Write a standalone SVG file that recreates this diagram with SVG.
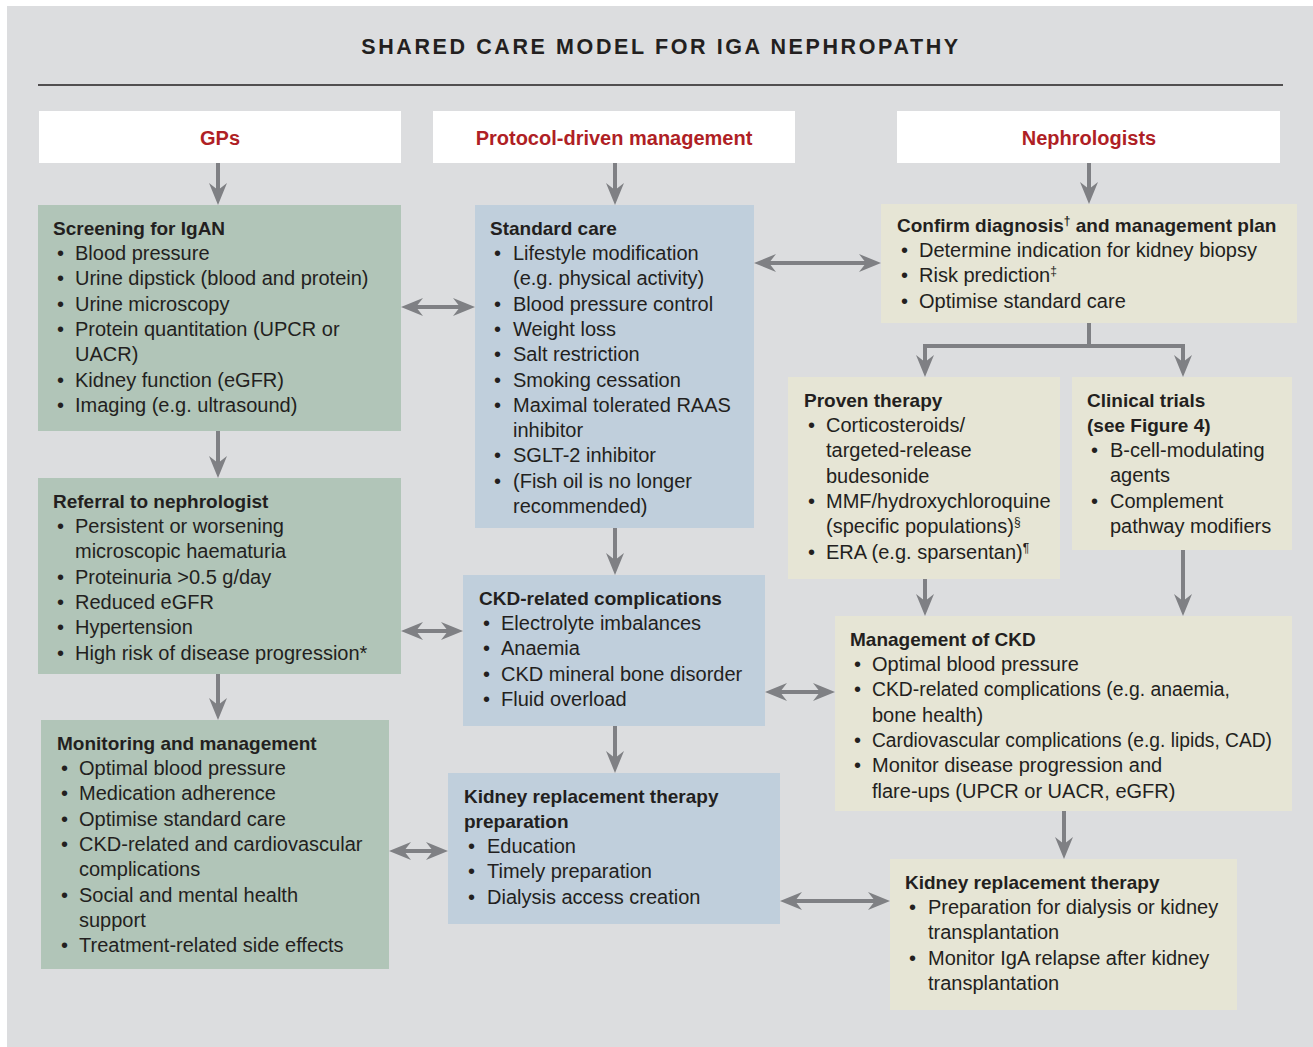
<svg xmlns="http://www.w3.org/2000/svg" width="1313" height="1047" viewBox="0 0 1313 1047">
<defs>
<marker id="ah" viewBox="0 0 22 18" markerWidth="22" markerHeight="18" markerUnits="userSpaceOnUse" refX="8" refY="9" orient="auto-start-reverse">
<path d="M0,0 L22,9 L0,18 L7,9 z" fill="#7f8084"/>
</marker>
</defs>
<style>
text{font-family:"Liberation Sans",Arial,sans-serif;fill:#231f20}
.title{font-size:21.5px;font-weight:bold;letter-spacing:2.6px}
.hdr{font-size:20px;font-weight:bold;fill:#af1f25}
.h{font-size:19px;font-weight:bold}
.b{font-size:20px}
.sup{font-size:12px}
.green{fill:#b1c5b8}
.blue{fill:#c0cfdc}
.beige{fill:#e6e5d5}
.white{fill:#ffffff}
.conn path{stroke:#7f8084;stroke-width:4;fill:none}
</style>
<rect x="7" y="6" width="1306" height="1041" fill="#dcdddf"/>
<text class="title" x="661" y="54" text-anchor="middle">SHARED CARE MODEL FOR IGA NEPHROPATHY</text>
<line x1="38" y1="85" x2="1283" y2="85" stroke="#231f20" stroke-width="1.5"/>

<g id="hdr-gps"><rect class="white" x="39" y="111" width="362" height="52"/><text class="hdr" x="220" y="145" text-anchor="middle">GPs</text></g>
<g id="hdr-protocol"><rect class="white" x="433" y="111" width="362" height="52"/><text class="hdr" x="614" y="145" text-anchor="middle">Protocol-driven management</text></g>
<g id="hdr-neph"><rect class="white" x="897" y="111" width="383" height="52"/><text class="hdr" x="1089" y="145" text-anchor="middle">Nephrologists</text></g>

<g id="screening">
<rect class="green" x="38" y="205" width="363" height="226"/>
<text class="h" x="53" y="235">Screening for IgAN</text>
<text class="b" x="57" y="260">•</text><text class="b" x="75" y="260">Blood pressure</text>
<text class="b" x="57" y="285.3">•</text><text class="b" x="75" y="285.3">Urine dipstick (blood and protein)</text>
<text class="b" x="57" y="310.6">•</text><text class="b" x="75" y="310.6">Urine microscopy</text>
<text class="b" x="57" y="335.9">•</text><text class="b" x="75" y="335.9">Protein quantitation (UPCR or</text>
<text class="b" x="75" y="361.2">UACR)</text>
<text class="b" x="57" y="386.5">•</text><text class="b" x="75" y="386.5">Kidney function (eGFR)</text>
<text class="b" x="57" y="411.8">•</text><text class="b" x="75" y="411.8">Imaging (e.g. ultrasound)</text>
</g>

<g id="referral">
<rect class="green" x="38" y="478" width="363" height="196"/>
<text class="h" x="53" y="508">Referral to nephrologist</text>
<text class="b" x="57" y="533">•</text><text class="b" x="75" y="533">Persistent or worsening</text>
<text class="b" x="75" y="558.3">microscopic haematuria</text>
<text class="b" x="57" y="583.6">•</text><text class="b" x="75" y="583.6">Proteinuria &gt;0.5 g/day</text>
<text class="b" x="57" y="608.9">•</text><text class="b" x="75" y="608.9">Reduced eGFR</text>
<text class="b" x="57" y="634.2">•</text><text class="b" x="75" y="634.2">Hypertension</text>
<text class="b" x="57" y="659.5">•</text><text class="b" x="75" y="659.5">High risk of disease progression*</text>
</g>

<g id="monitoring">
<rect class="green" x="41" y="720" width="348" height="249"/>
<text class="h" x="57" y="750">Monitoring and management</text>
<text class="b" x="61" y="775">•</text><text class="b" x="79" y="775">Optimal blood pressure</text>
<text class="b" x="61" y="800.3">•</text><text class="b" x="79" y="800.3">Medication adherence</text>
<text class="b" x="61" y="825.6">•</text><text class="b" x="79" y="825.6">Optimise standard care</text>
<text class="b" x="61" y="850.9">•</text><text class="b" x="79" y="850.9">CKD-related and cardiovascular</text>
<text class="b" x="79" y="876.2">complications</text>
<text class="b" x="61" y="901.5">•</text><text class="b" x="79" y="901.5">Social and mental health</text>
<text class="b" x="79" y="926.8">support</text>
<text class="b" x="61" y="952.1">•</text><text class="b" x="79" y="952.1">Treatment-related side effects</text>
</g>

<g id="standard-care">
<rect class="blue" x="475" y="205" width="279" height="323"/>
<text class="h" x="490" y="235">Standard care</text>
<text class="b" x="494" y="260">•</text><text class="b" x="513" y="260">Lifestyle modification</text>
<text class="b" x="513" y="285.3">(e.g. physical activity)</text>
<text class="b" x="494" y="310.6">•</text><text class="b" x="513" y="310.6">Blood pressure control</text>
<text class="b" x="494" y="335.9">•</text><text class="b" x="513" y="335.9">Weight loss</text>
<text class="b" x="494" y="361.2">•</text><text class="b" x="513" y="361.2">Salt restriction</text>
<text class="b" x="494" y="386.5">•</text><text class="b" x="513" y="386.5">Smoking cessation</text>
<text class="b" x="494" y="411.8">•</text><text class="b" x="513" y="411.8">Maximal tolerated RAAS</text>
<text class="b" x="513" y="437.1">inhibitor</text>
<text class="b" x="494" y="462.4">•</text><text class="b" x="513" y="462.4">SGLT-2 inhibitor</text>
<text class="b" x="494" y="487.7">•</text><text class="b" x="513" y="487.7">(Fish oil is no longer</text>
<text class="b" x="513" y="513">recommended)</text>
</g>

<g id="ckd-related">
<rect class="blue" x="463" y="575" width="302" height="151"/>
<text class="h" x="479" y="605">CKD-related complications</text>
<text class="b" x="483" y="630">•</text><text class="b" x="501" y="630">Electrolyte imbalances</text>
<text class="b" x="483" y="655.3">•</text><text class="b" x="501" y="655.3">Anaemia</text>
<text class="b" x="483" y="680.6">•</text><text class="b" x="501" y="680.6">CKD mineral bone disorder</text>
<text class="b" x="483" y="705.9">•</text><text class="b" x="501" y="705.9">Fluid overload</text>
</g>

<g id="krt-prep">
<rect class="blue" x="448" y="773" width="332" height="151"/>
<text class="h" x="464" y="803">Kidney replacement therapy</text>
<text class="h" x="464" y="828">preparation</text>
<text class="b" x="468" y="853">•</text><text class="b" x="487" y="853">Education</text>
<text class="b" x="468" y="878.3">•</text><text class="b" x="487" y="878.3">Timely preparation</text>
<text class="b" x="468" y="903.6">•</text><text class="b" x="487" y="903.6">Dialysis access creation</text>
</g>

<g id="confirm">
<rect class="beige" x="881" y="204" width="416" height="119"/>
<text class="h" x="897" y="232">Confirm diagnosis<tspan class="sup" dy="-7">†</tspan><tspan dy="7"> and management plan</tspan></text>
<text class="b" x="901" y="257">•</text><text class="b" x="919" y="257">Determine indication for kidney biopsy</text>
<text class="b" x="901" y="282.3">•</text><text class="b" x="919" y="282.3">Risk prediction<tspan class="sup" dy="-7">‡</tspan></text>
<text class="b" x="901" y="307.6">•</text><text class="b" x="919" y="307.6">Optimise standard care</text>
</g>

<g id="proven">
<rect class="beige" x="788" y="377" width="272" height="202"/>
<text class="h" x="804" y="407">Proven therapy</text>
<text class="b" x="808" y="432">•</text><text class="b" x="826" y="432">Corticosteroids/</text>
<text class="b" x="826" y="457.3">targeted-release</text>
<text class="b" x="826" y="482.6">budesonide</text>
<text class="b" x="808" y="507.9">•</text><text class="b" x="826" y="507.9">MMF/hydroxychloroquine</text>
<text class="b" x="826" y="533.2">(specific populations)<tspan class="sup" dy="-7">§</tspan></text>
<text class="b" x="808" y="558.5">•</text><text class="b" x="826" y="558.5">ERA (e.g. sparsentan)<tspan class="sup" dy="-7">¶</tspan></text>
</g>

<g id="clinical-trials">
<rect class="beige" x="1072" y="377" width="220" height="173"/>
<text class="h" x="1087" y="407">Clinical trials</text>
<text class="h" x="1087" y="432">(see Figure 4)</text>
<text class="b" x="1091" y="457">•</text><text class="b" x="1110" y="457">B-cell-modulating</text>
<text class="b" x="1110" y="482.3">agents</text>
<text class="b" x="1091" y="507.6">•</text><text class="b" x="1110" y="507.6">Complement</text>
<text class="b" x="1110" y="532.9">pathway modifiers</text>
</g>

<g id="management-ckd">
<rect class="beige" x="835" y="616" width="457" height="195"/>
<text class="h" x="850" y="646">Management of CKD</text>
<text class="b" x="854" y="671">•</text><text class="b" x="872" y="671">Optimal blood pressure</text>
<text class="b" x="854" y="696.3">•</text><text class="b" x="872" y="696.3" textLength="358" lengthAdjust="spacingAndGlyphs">CKD-related complications (e.g. anaemia,</text>
<text class="b" x="872" y="721.6">bone health)</text>
<text class="b" x="854" y="746.9">•</text><text class="b" x="872" y="746.9" textLength="400" lengthAdjust="spacingAndGlyphs">Cardiovascular complications (e.g. lipids, CAD)</text>
<text class="b" x="854" y="772.2">•</text><text class="b" x="872" y="772.2">Monitor disease progression and</text>
<text class="b" x="872" y="797.5">flare-ups (UPCR or UACR, eGFR)</text>
</g>

<g id="krt">
<rect class="beige" x="890" y="859" width="347" height="151"/>
<text class="h" x="905" y="889">Kidney replacement therapy</text>
<text class="b" x="909" y="914">•</text><text class="b" x="928" y="914">Preparation for dialysis or kidney</text>
<text class="b" x="928" y="939.3">transplantation</text>
<text class="b" x="909" y="964.6">•</text><text class="b" x="928" y="964.6">Monitor IgA relapse after kidney</text>
<text class="b" x="928" y="989.9">transplantation</text>
</g>

<g id="connectors" class="conn">
<path d="M218,163 V191" marker-end="url(#ah)"/>
<path d="M615,163 V191" marker-end="url(#ah)"/>
<path d="M1089,163 V190" marker-end="url(#ah)"/>
<path d="M415,307 H461" marker-start="url(#ah)" marker-end="url(#ah)"/>
<path d="M768,263 H867" marker-start="url(#ah)" marker-end="url(#ah)"/>
<path d="M218,431 V464" marker-end="url(#ah)"/>
<path d="M218,674 V706" marker-end="url(#ah)"/>
<path d="M415,631 H449" marker-start="url(#ah)" marker-end="url(#ah)"/>
<path d="M615,528 V561" marker-end="url(#ah)"/>
<path d="M615,726 V759" marker-end="url(#ah)"/>
<path d="M403,851 H434" marker-start="url(#ah)" marker-end="url(#ah)"/>
<path d="M779,692 H821" marker-start="url(#ah)" marker-end="url(#ah)"/>
<path d="M1089,323 V346 M923,346 H1185"/>
<path d="M925,344 V363" marker-end="url(#ah)"/>
<path d="M1183,344 V363" marker-end="url(#ah)"/>
<path d="M925,579 V602" marker-end="url(#ah)"/>
<path d="M1183,550 V602" marker-end="url(#ah)"/>
<path d="M1064,811 V845" marker-end="url(#ah)"/>
<path d="M794,901 H876" marker-start="url(#ah)" marker-end="url(#ah)"/>
</g>
</svg>
